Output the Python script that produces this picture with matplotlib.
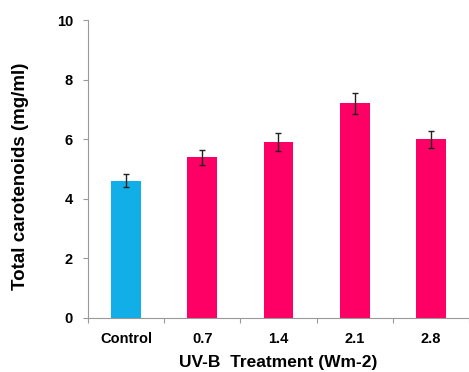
import numpy as np
import matplotlib
matplotlib.use("Agg")
import matplotlib.pyplot as plt

# total carotenoid content per UV-B dose
treatments = ["Control", "0.7", "1.4", "2.1", "2.8"]
carotenoids = [4.6, 5.4, 5.9, 7.2, 6.0]
errors = [0.22, 0.25, 0.3, 0.35, 0.28]
bar_colors = ["#12aee8", "#fe0065", "#fe0065", "#fe0065", "#fe0065"]

plt.rcParams["font.family"] = ["Liberation Sans", "DejaVu Sans"]

fig = plt.figure(figsize=(4.69, 3.72), dpi=100)
ax = fig.add_axes([0.1876, 0.1452, 0.8124, 0.801])

x = np.arange(len(treatments))
ax.bar(x, carotenoids, width=0.39, color=bar_colors, zorder=2)
ax.errorbar(x, carotenoids, yerr=errors, fmt="none", ecolor="#222222",
            elinewidth=1, capsize=2.5, capthick=1, zorder=3)

ax.set_xlim(-0.5, len(treatments) - 0.5)
ax.set_ylim(0, 10)
ax.set_yticks([0, 2, 4, 6, 8, 10])

# category labels at bar centres, tick marks at the boundaries
ax.set_xticks(x)
ax.set_xticklabels(treatments, fontsize=10.5, fontweight="bold")
ax.set_xticks(np.arange(len(treatments) + 1) - 0.5, minor=True)
ax.tick_params(axis="x", which="major", length=0, pad=10)
ax.tick_params(axis="x", which="minor", length=3.6, color="#999999", width=0.8)
ax.tick_params(axis="y", length=3.6, color="#999999", width=0.8, pad=7.2)
for lab in ax.get_yticklabels():
    lab.set_fontsize(10.5)
    lab.set_fontweight("bold")

for side in ["top", "right"]:
    ax.spines[side].set_visible(False)
for side in ["left", "bottom"]:
    ax.spines[side].set_color("#999999")
    ax.spines[side].set_linewidth(0.8)

ax.set_xlabel("UV-B  Treatment (Wm-2)", fontsize=12.5, fontweight="bold")
ax.set_ylabel("Total carotenoids (mg/ml)", fontsize=13.5, fontweight="bold")
ax.xaxis.set_label_coords(0.5, -0.125)
ax.yaxis.set_label_coords(-0.155, 0.476)

fig.savefig("out.png", dpi=100)
